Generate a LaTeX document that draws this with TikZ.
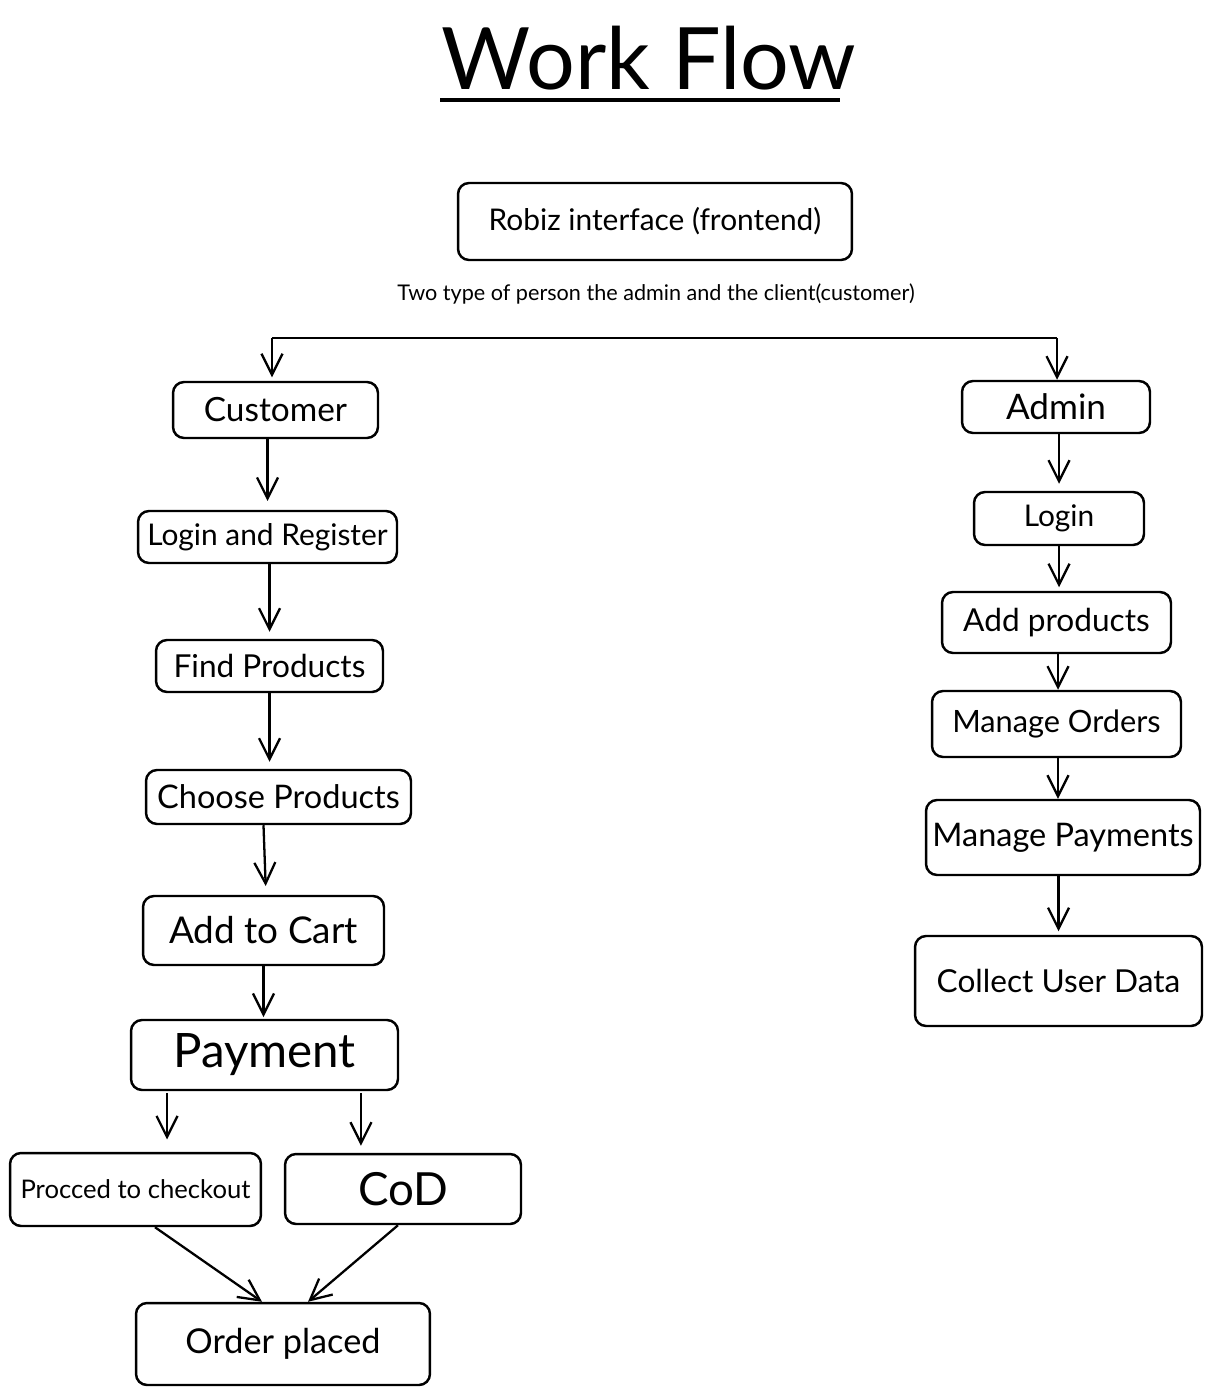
\documentclass[tikz,border=0pt]{standalone}
\usepackage{fontspec}
\setmainfont{Lato}
\usetikzlibrary{arrows.meta,calc}

\tikzset{
	box/.style={draw, rounded corners=0.22cm, line width=1.4pt, align=center, inner sep=2pt},
	arr/.style={-{Straight Barb[length=0.42cm,width=0.42cm,line width=1.3pt]}, line width=1.3pt},
	thickarr/.style={arr, line width=1.9pt},
}
\newcommand{\fs}[1]{\fontsize{#1}{1.2\dimexpr#1\relax}\selectfont}

\begin{document}
\begin{tikzpicture}[x=0.02cm, y=-0.02cm]
			%%%%% START %%%%%
			\useasboundingbox (0,0) rectangle (1212,1395);
			
			% title
			\node[inner sep=0pt] (title) at (649,58) {\fs{49pt}Work Flow};
			\draw[line width=1.8pt] (440,100) -- (840,100);
			
			\node[box, minimum width=7.88cm, minimum height=1.54cm] (robiz) at (655,221.5) {\fs{17pt}Robiz interface (frontend)};
			\node (note) at (656,294) {\fs{12.3pt}Two type of person the admin and the client(customer)};
			
			\coordinate (splitL) at (272,338);
			\coordinate (splitR) at (1057,338);
			\draw[line width=1.7pt] (splitL) -- (splitR);
			
			%%%%% customer side %%%%%
			\node[box, minimum width=4.1cm, minimum height=1.12cm] (customer) at (275.5,410) {\fs{19pt}Customer};
			\node[box, minimum width=5.18cm, minimum height=1.04cm] (logreg) at (267.5,537) {\fs{17pt}Login and Register};
			\node[box, minimum width=4.54cm, minimum height=1.04cm] (find) at (269.5,666) {\fs{18pt}Find Products};
			\node[box, minimum width=5.3cm, minimum height=1.08cm] (choose) at (278.5,797) {\fs{18.5pt}Choose Products};
			\node[box, minimum width=4.82cm, minimum height=1.38cm] (cart) at (263.5,930.5) {\fs{21pt}Add to Cart};
			\node[box, minimum width=5.34cm, minimum height=1.4cm] (payment) at (264.5,1055) {\fs{27pt}Payment};
			\node[box, minimum width=5.02cm, minimum height=1.46cm] (checkout) at (135.5,1189.5) {\fs{14.6pt}Procced to checkout};
			\node[box, minimum width=4.72cm, minimum height=1.4cm] (cod) at (403,1189) {\fs{26pt}CoD};
			\node[box, minimum width=5.88cm, minimum height=1.64cm] (order) at (283,1344) {\fs{19.5pt}Order placed};
			
			\draw[arr, shorten >=2pt] (splitL) -- (splitL |- customer.north);
			\draw[thickarr, shorten >=5pt] (logreg.north |- customer.south) -- (logreg.north);
			\draw[arr, shorten >=4pt] (find.north |- logreg.south) -- (find.north);
			\draw[arr, shorten >=4pt] (find.north |- find.south) -- (find.north |- choose.north);
			\draw[arr, shorten >=5pt] (cart.north |- choose.south) -- ($(cart.north)+(2.5,0)$);
			\draw[arr, shorten >=1pt] (cart.south) -- (cart.south |- payment.north);
			
			\coordinate (payL) at ([xshift=-1.95cm]payment.south);
			\coordinate (payR) at ([xshift=1.93cm]payment.south);
			\draw[arr, shorten <=1pt, shorten >=7pt] (payL) -- (payL |- checkout.north);
			\draw[arr, shorten <=1pt, shorten >=4pt] (payR) -- (payR |- cod.north);
			
			\draw[arr] ([xshift=0.39cm]checkout.south) -- ([xshift=-0.42cm]order.north);
			\draw[arr] ([xshift=-0.1cm]cod.south) -- ([xshift=0.5cm]order.north);
			
			%%%%% admin side %%%%%
			\node[box, minimum width=3.76cm, minimum height=1.04cm] (admin) at (1056,407) {\fs{20pt}Admin};
			\node[box, minimum width=3.4cm, minimum height=1.06cm] (login) at (1059,518.5) {\fs{17pt}Login};
			\node[box, minimum width=4.58cm, minimum height=1.22cm] (addprod) at (1056.5,622.5) {\fs{18pt}Add products};
			\node[box, minimum width=4.98cm, minimum height=1.32cm] (orders) at (1056.5,724) {\fs{17.5pt}Manage Orders};
			\node[box, minimum width=5.48cm, minimum height=1.5cm] (payments) at (1063,837.5) {\fs{18.5pt}Manage Payments};
			\node[box, minimum width=5.74cm, minimum height=1.8cm] (collect) at (1058.5,981) {\fs{18pt}Collect User Data};
			
			\draw[arr] (splitR) -- (splitR |- admin.north);
			\draw[arr, shorten >=4pt] (login.north |- admin.south) -- (login.north);
			\draw[arr, shorten >=2pt] (login.south -| 1059,0) -- (addprod.north -| 1059,0);
			\draw[arr] (addprod.south -| 1058,0) -- (orders.north -| 1058,0);
			\draw[arr] (orders.south -| 1058,0) -- (payments.north -| 1058,0);
			\draw[thickarr, shorten >=2pt] (collect.north |- payments.south) -- (collect.north);
			
			%%%%% END %%%%%
\end{tikzpicture}
\end{document}
